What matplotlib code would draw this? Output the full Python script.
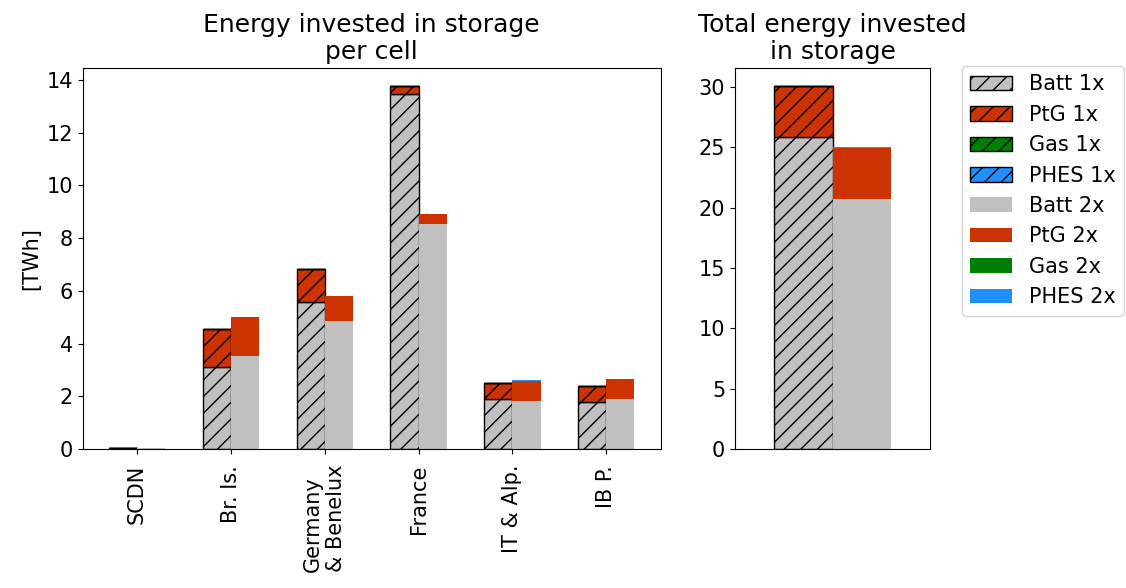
import numpy as np
import matplotlib
matplotlib.use('Agg')
import matplotlib.pyplot as plt

plt.rcParams['font.size'] = 15

## data [TWh]
cells = ['SCDN', 'Br. Is.', 'Germany\n& Benelux', 'France', 'IT & Alp.', 'IB P.']
techs = ['Batt', 'PtG', 'Gas', 'PHES']
colors = ['#c0c0c0', '#cc3300', 'green', 'dodgerblue']

batt_1x = [0.05, 3.10, 5.59, 13.47, 1.89, 1.77]
ptg_1x = [0.0, 1.44, 1.24, 0.31, 0.60, 0.63]
gas_1x = [0.0, 0.0, 0.0, 0.0, 0.0, 0.0]
phes_1x = [0.0, 0.0, 0.0, 0.0, 0.02, 0.0]

batt_2x = [0.03, 3.54, 4.87, 8.55, 1.83, 1.91]
ptg_2x = [0.0, 1.47, 0.92, 0.38, 0.75, 0.73]
gas_2x = [0.0, 0.0, 0.0, 0.0, 0.0, 0.0]
phes_2x = [0.0, 0.0, 0.0, 0.0, 0.03, 0.0]

data_1x = [batt_1x, ptg_1x, gas_1x, phes_1x]
data_2x = [batt_2x, ptg_2x, gas_2x, phes_2x]

fig = plt.figure(figsize=(11.26, 5.88), dpi=100)
ax1 = fig.add_axes([0.0734, 0.2364, 0.5134, 0.6485])
ax2 = fig.add_axes([0.6527, 0.2364, 0.1733, 0.6485])

x = np.arange(len(cells))
w = 0.3

# per cell, stacked
bottom_1x = np.zeros(len(cells))
bottom_2x = np.zeros(len(cells))
for tech, col, v1 in zip(techs, colors, data_1x):
    ax1.bar(x - w / 2, v1, w, bottom=bottom_1x, color=col, edgecolor='k',
            hatch='//', linewidth=1, label=tech + ' 1x')
    bottom_1x += np.array(v1)
for tech, col, v2 in zip(techs, colors, data_2x):
    ax1.bar(x + w / 2, v2, w, bottom=bottom_2x, color=col, linewidth=0,
            label=tech + ' 2x')
    bottom_2x += np.array(v2)

ax1.set_ylim(0, 1.05 * max(bottom_1x.max(), bottom_2x.max()))
ax1.set_xticks(x)
ax1.set_xticklabels(cells, rotation=90)
for lbl in ax1.get_xticklabels():
    lbl.set_multialignment('left')
ax1.tick_params(axis='x', pad=8)
ax1.set_ylabel('[TWh]')
ax1.set_title('Energy invested in storage\nper cell')

# total over all cells
bot1 = 0.0
bot2 = 0.0
for tech, col, v1 in zip(techs, colors, data_1x):
    ax2.bar(-w / 2, sum(v1), w, bottom=bot1, color=col, edgecolor='k',
            hatch='//', linewidth=1)
    bot1 += sum(v1)
for tech, col, v2 in zip(techs, colors, data_2x):
    ax2.bar(w / 2, sum(v2), w, bottom=bot2, color=col, linewidth=0)
    bot2 += sum(v2)
ax2.set_xlim(-0.5, 0.5)
ax2.set_ylim(0, 1.05 * max(bot1, bot2))
ax2.set_xticks([])
ax2.set_title('Total energy invested\nin storage')

handles, labels = ax1.get_legend_handles_labels()
fig.legend(handles, labels, loc='upper left',
           bbox_to_anchor=(962 / 1126, 1 - 66 / 588), borderaxespad=0)

plt.savefig('out.png', dpi=100)
